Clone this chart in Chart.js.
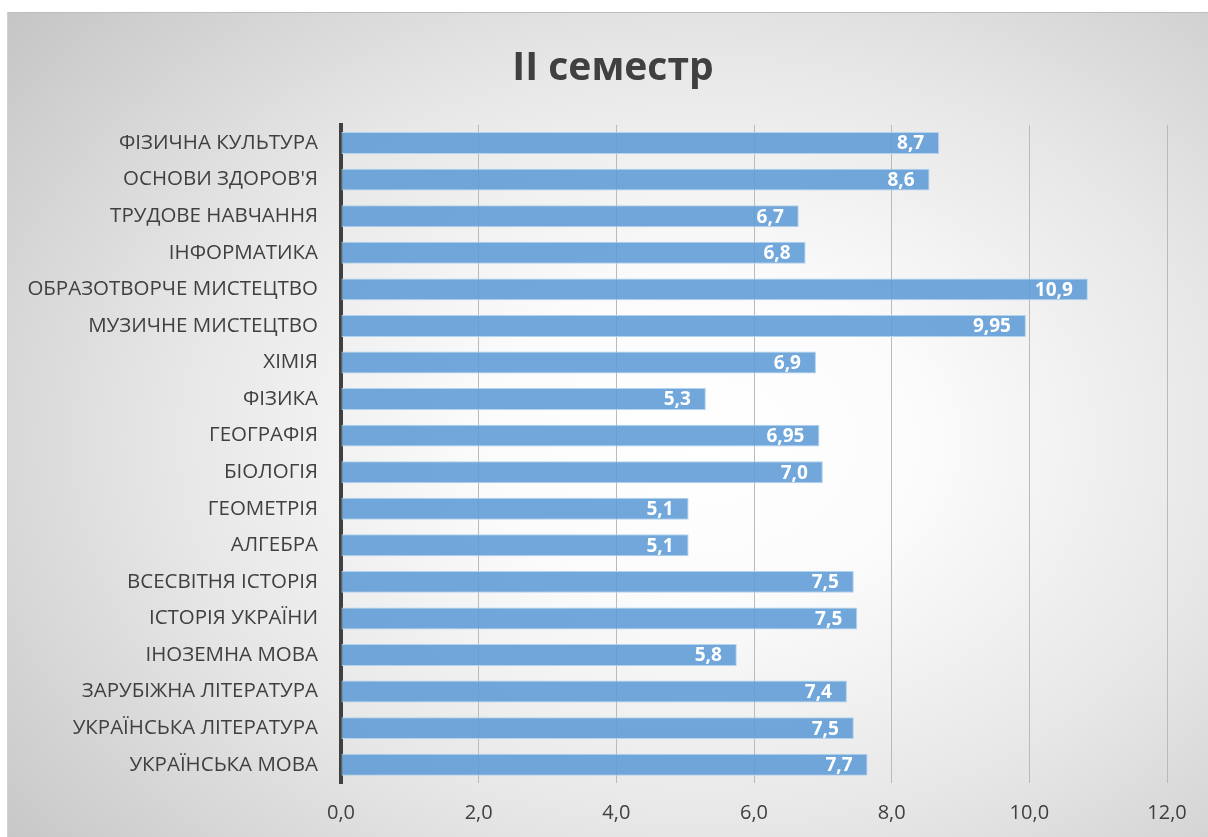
<!DOCTYPE html>
<html>
<head>
<meta charset="utf-8">
<script src="https://cdn.jsdelivr.net/npm/chart.js@4.4.0/dist/chart.umd.min.js"></script>
<style>
  html, body { margin: 0; padding: 0; background: #ffffff; width: 1208px; height: 837px; overflow: hidden; }
  #frame {
    position: absolute; left: 7px; top: 12px; width: 1201px; height: 825px;
    border-top: 1px solid #bdbdbd; border-left: 1px solid #d0d0d0; box-sizing: border-box;
    background: radial-gradient(ellipse 75% 80% at 58% 52%, #ffffff 0%, #fbfbfb 25%, #e6e6e6 60%, #c6c6c6 100%);
  }
  canvas { display: block; }
</style>
</head>
<body>
<div id="frame"><canvas id="c" width="1200" height="824"></canvas></div>
<script>
const categories = [
  "ФІЗИЧНА КУЛЬТУРА",
  "ОСНОВИ ЗДОРОВ'Я",
  "ТРУДОВЕ НАВЧАННЯ",
  "ІНФОРМАТИКА",
  "ОБРАЗОТВОРЧЕ МИСТЕЦТВО",
  "МУЗИЧНЕ МИСТЕЦТВО",
  "ХІМІЯ",
  "ФІЗИКА",
  "ГЕОГРАФІЯ",
  "БІОЛОГІЯ",
  "ГЕОМЕТРІЯ",
  "АЛГЕБРА",
  "ВСЕСВІТНЯ ІСТОРІЯ",
  "ІСТОРІЯ УКРАЇНИ",
  "ІНОЗЕМНА МОВА",
  "ЗАРУБІЖНА ЛІТЕРАТУРА",
  "УКРАЇНСЬКА ЛІТЕРАТУРА",
  "УКРАЇНСЬКА МОВА"
];
const values = [8.69, 8.55, 6.65, 6.75, 10.85, 9.95, 6.9, 5.3, 6.95, 7.0, 5.05, 5.05, 7.45, 7.5, 5.75, 7.35, 7.45, 7.65];
const valueLabels = ["8,7", "8,6", "6,7", "6,8", "10,9", "9,95", "6,9", "5,3", "6,95", "7,0", "5,1", "5,1", "7,5", "7,5", "5,8", "7,4", "7,5", "7,7"];
const xTicks = [0, 2, 4, 6, 8, 10, 12];
const titleText = "II семестр";

const FONT = "'Open Sans', 'DejaVu Sans', sans-serif";

const valueLabelPlugin = {
  id: 'valueLabels',
  afterDatasetsDraw(chart) {
    const ctx = chart.ctx;
    const meta = chart.getDatasetMeta(0);
    ctx.save();
    ctx.font = "bold 19px " + FONT;
    ctx.fillStyle = "#ffffff";
    ctx.textAlign = "right";
    ctx.textBaseline = "middle";
    meta.data.forEach((bar, i) => {
      ctx.fillText(valueLabels[i], bar.x - 15, bar.y + 1);
    });
    ctx.restore();
  }
};

new Chart(document.getElementById('c'), {
  type: 'bar',
  data: {
    labels: categories,
    datasets: [{
      data: values,
      backgroundColor: 'rgba(93,155,213,0.88)',
      borderColor: '#b4d3ef',
      borderWidth: 1,
      borderSkipped: false,
      categoryPercentage: 1.0,
      barPercentage: 0.6
    }]
  },
  options: {
    indexAxis: 'y',
    responsive: false,
    animation: false,
    layout: { padding: { left: 51, right: 41, top: 32, bottom: 0 } },
    plugins: {
      legend: { display: false },
      tooltip: { enabled: false },
      title: {
        display: true,
        text: titleText,
        color: '#404040',
        font: { family: FONT, size: 39, weight: 'bold', lineHeight: 1.2 },
        padding: { top: 0, bottom: 33 }
      }
    },
    scales: {
      x: {
        min: 0, max: 12,
        afterBuildTicks(scale) { scale.ticks = xTicks.map(v => ({ value: v })); },
        afterFit(scale) { scale.height = 54; },
        grid: { color: '#bababa', lineWidth: 1, drawTicks: false },
        border: { display: false },
        ticks: {
          color: '#404040',
          font: { family: FONT, size: 20 },
          padding: 18,
          callback: v => v.toFixed(1).replace('.', ',')
        }
      },
      y: {
        afterFit(scale) {
          scale.width = 282;
          // let the long category names extend into the left padding instead of being clipped
          scale._computeLabelArea = () => undefined;
        },
        grid: { display: false, drawTicks: false },
        border: { display: true, color: '#404040', width: 4 },
        ticks: {
          color: '#404040',
          font: { family: FONT, size: 20.5 },
          padding: 23
        }
      }
    }
  },
  plugins: [valueLabelPlugin]
});
</script>
</body>
</html>
